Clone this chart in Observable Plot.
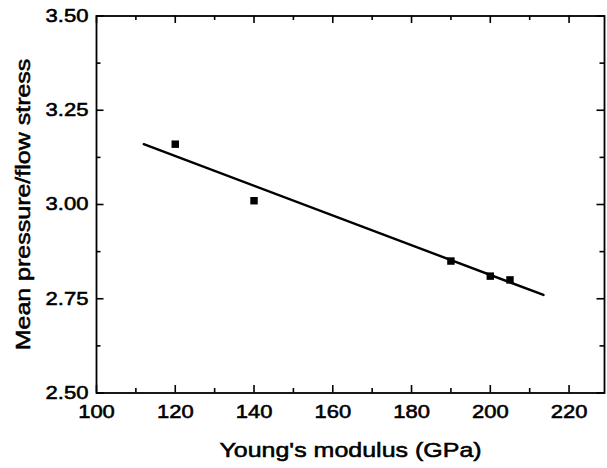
<!DOCTYPE html>
<html><head><meta charset="utf-8">
<script src="https://cdn.jsdelivr.net/npm/d3@7"></script>
<script src="https://cdn.jsdelivr.net/npm/@observablehq/plot@0.6"></script>
<style>html,body{margin:0;padding:0;background:#fff;overflow:hidden}
svg text{stroke:#000;stroke-width:0.55px;paint-order:stroke}</style>
</head><body><div id="chart"></div>
<script>
// Data
const modulus = [120, 140, 190, 200, 205];
const ratio = [3.16, 3.01, 2.85, 2.81, 2.80];
// fitted straight line (end points of the drawn fit)
const fitModulus = [112, 213.5];
const fitRatio = [3.16, 2.76];
// ticks
const xTicks = [100, 120, 140, 160, 180, 200, 220];
const xMinor = [110, 130, 150, 170, 190, 210];
const yTicks = [2.50, 2.75, 3.00, 3.25, 3.50];
const yMinor = [2.625, 2.875, 3.125, 3.375];
const xTitle = "Young's modulus (GPa)";
const yTitle = "Mean pressure/flow stress";

const points = modulus.map((x, i) => ({x, y: ratio[i]}));
const fit = fitModulus.map((x, i) => ({x, y: fitRatio[i]}));

const W = 607, H = 468;
const mL = 96, mR = 3, mT = 15.5, mB = 75.5;
const plotW = W - mL - mR, plotH = H - mT - mB;
const major = 7.5, minor = 4.5;

// inward tick marks on all four sides (short ticks via insets)
const tickMarks = [];
for (const [vals, len] of [[xTicks, major], [xMinor, minor]]) {
  tickMarks.push(Plot.tickX(vals, {x: d => d, insetTop: plotH - len, stroke: "#000", strokeWidth: 1.6}));
  tickMarks.push(Plot.tickX(vals, {x: d => d, insetBottom: plotH - len, stroke: "#000", strokeWidth: 1.6}));
}
for (const [vals, len] of [[yTicks, major], [yMinor, minor]]) {
  tickMarks.push(Plot.tickY(vals, {y: d => d, insetRight: plotW - len, stroke: "#000", strokeWidth: 1.6}));
  tickMarks.push(Plot.tickY(vals, {y: d => d, insetLeft: plotW - len, stroke: "#000", strokeWidth: 1.6}));
}

const chart = Plot.plot({
  width: W,
  height: H,
  marginLeft: mL,
  marginRight: mR,
  marginTop: mT,
  marginBottom: mB,
  style: {fontFamily: "'Liberation Sans', Arial, sans-serif", fontSize: "18.5px", background: "#fff", color: "#000"},
  x: {domain: [100, 229]},
  y: {domain: [2.5, 3.5]},
  marks: [
    Plot.line(fit, {x: "x", y: "y", stroke: "#000", strokeWidth: 2.4}),
    Plot.dot(points, {x: "x", y: "y", symbol: "square", fill: "#000", r: 4.2}),
    ...tickMarks,
    Plot.frame({stroke: "#000", strokeWidth: 1.8}),
    Plot.axisX(xTicks, {anchor: "bottom", tickSize: 0, tickPadding: 12, tickFormat: d => String(d), label: null, fontSize: 18.5}),
    Plot.axisY(yTicks, {anchor: "left", tickSize: 0, tickPadding: 8, tickFormat: d3.format(".2f"), label: null, fontSize: 18.5}),
    Plot.text([xTitle], {frameAnchor: "bottom", text: d => d, dy: 49, lineAnchor: "top", textAnchor: "middle", fontSize: 21}),
    Plot.text([yTitle], {frameAnchor: "left", text: d => d, dx: -81, rotate: -90, lineAnchor: "top", textAnchor: "middle", fontSize: 21})
  ]
});
document.getElementById("chart").appendChild(chart);

// the reference typeface is horizontally wide; stretch glyphs accordingly
chart.querySelectorAll("text").forEach(t => {
  const len = t.getComputedTextLength();
  if (len > 0) {
    t.setAttribute("textLength", (len * 1.19).toFixed(1));
    t.setAttribute("lengthAdjust", "spacingAndGlyphs");
  }
});
</script>
</body></html>
